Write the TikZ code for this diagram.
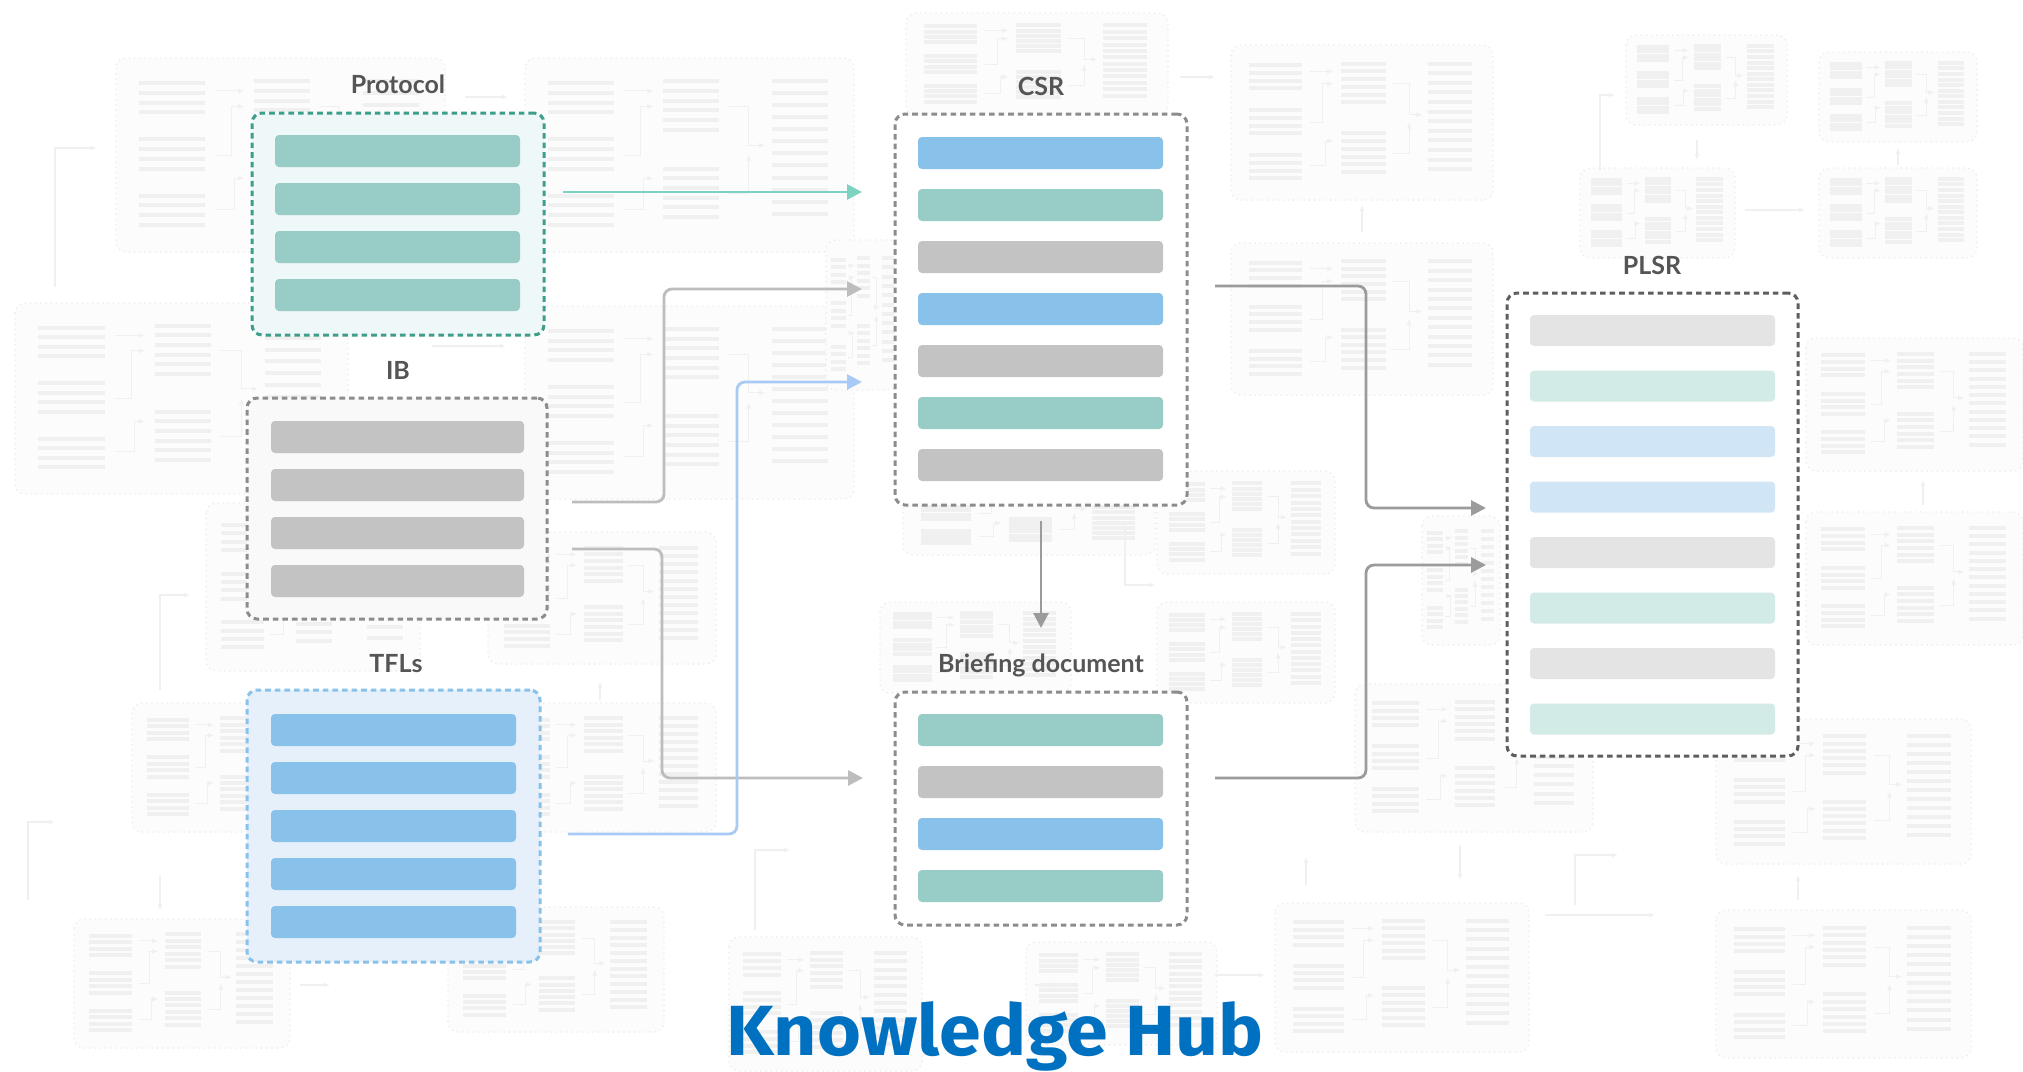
\documentclass[tikz,border=0pt]{standalone}
\usepackage{fontspec}
\setmainfont{Lato}
\newfontfamily\titlefont[FakeStretch=1.06]{Fira Sans}
\usetikzlibrary{arrows.meta}
\definecolor{tealbar}{HTML}{97CDC6}
\definecolor{bluebar}{HTML}{88C1EA}
\definecolor{graybar}{HTML}{C3C3C3}
\definecolor{ltgray}{HTML}{E4E4E4}
\definecolor{ltteal}{HTML}{D3EBE6}
\definecolor{ltblue}{HTML}{D0E5F5}
\definecolor{tealedge}{HTML}{3E9E8B}
\definecolor{tealfill}{HTML}{EFF8F8}
\definecolor{bluefill}{HTML}{E5F0FA}
\definecolor{grayfill}{HTML}{F9F9F9}
\definecolor{grayedge}{HTML}{8C8C8C}
\definecolor{darkedge}{HTML}{5E5E5E}
\definecolor{labelc}{HTML}{555555}
\definecolor{titlec}{HTML}{0070C0}
\definecolor{tealarrow}{HTML}{7DD3C1}
\definecolor{bluearrow}{HTML}{A8CAF4}
\definecolor{lgarrow}{HTML}{BDBDBD}
\definecolor{dgarrow}{HTML}{9B9B9B}
\definecolor{bgline}{HTML}{F0F0F0}
\definecolor{bgedge}{HTML}{EAEAEA}
\definecolor{bgfill}{HTML}{FCFCFC}
\tikzset{
  docbox/.style={anchor=north west, inner sep=0pt, outer sep=0pt, line width=1.5pt,
    dash pattern=on 2.8pt off 2pt, rounded corners=5pt},
  barbox/.style={anchor=north west, inner sep=0pt, outer sep=0pt, rounded corners=2pt,
    minimum width=122.5pt, minimum height=16pt},
  lbl/.style={anchor=base, text=labelc, font=\bfseries\fontsize{12.5}{14}\selectfont},
  conn/.style={line width=1.4pt, rounded corners=4pt, -{Triangle[length=7.5pt,width=7.5pt]}},
  bgframe/.style={draw=bgedge, fill=bgfill, dotted, line width=0.6pt, rounded corners=5pt},
  bgbar/.style={draw=bgline, line width=2pt},
  bgconn/.style={draw=bgline, line width=0.5pt, -{Latex[length=3pt,width=2.5pt]}},
}
\newcommand\bgpanel[4]{%
  \begin{scope}
  \pgfmathsetmacro\pw{#3-#1}%
  \pgfmathsetmacro\ph{#4-#2}%
  \draw[bgframe] (#1,#2) rectangle (#3,#4);
  \foreach \g in {0,1,2}{%
    \foreach \l in {0,...,3}{%
      \draw[bgbar] ({#1+0.07*\pw},{#2+(0.13+0.29*\g+0.05*\l)*\ph}) -- ++({0.2*\pw},0);
    }
  }
  \foreach \g in {0,1}{%
    \foreach \l in {0,...,5}{%
      \draw[bgbar] ({#1+0.42*\pw},{#2+(0.12+0.45*\g+0.05*\l)*\ph}) -- ++({0.17*\pw},0);
    }
  }
  \foreach \l in {0,...,11}{%
    \draw[bgbar] ({#1+0.75*\pw},{#2+(0.12+0.062*\l)*\ph}) -- ++({0.17*\pw},0);
  }
  \draw[bgconn] ({#1+0.3*\pw},{#2+0.17*\ph}) -- ({#1+0.39*\pw},{#2+0.17*\ph});
  \draw[bgconn] ({#1+0.3*\pw},{#2+0.5*\ph}) -| ({#1+0.35*\pw},{#2+0.25*\ph}) -- ({#1+0.39*\pw},{#2+0.25*\ph});
  \draw[bgconn] ({#1+0.3*\pw},{#2+0.78*\ph}) -| ({#1+0.36*\pw},{#2+0.62*\ph}) -- ({#1+0.39*\pw},{#2+0.62*\ph});
  \draw[bgconn] ({#1+0.62*\pw},{#2+0.25*\ph}) -| ({#1+0.68*\pw},{#2+0.45*\ph}) -- ({#1+0.73*\pw},{#2+0.45*\ph});
  \draw[bgconn] ({#1+0.62*\pw},{#2+0.7*\ph}) -| ({#1+0.68*\pw},{#2+0.5*\ph});
  \end{scope}
}
\begin{document}
\begin{tikzpicture}[x=0.5pt,y=-0.5pt]
\useasboundingbox (0,0) rectangle (2023,1071);
\fill[white] (0,0) rectangle (2023,1071);
% ---------- faded background panels ----------
\bgpanel{116}{58}{445}{252}
\bgpanel{525}{58}{854}{252}
\bgpanel{15}{303}{348}{494}
\bgpanel{525}{306}{854}{499}
\bgpanel{906}{13}{1168}{116}
\bgpanel{1231}{45}{1493}{200}
\bgpanel{1231}{243}{1493}{395}
\bgpanel{1626}{35}{1787}{125}
\bgpanel{1819}{52}{1977}{142}
\bgpanel{1580}{168}{1735}{258}
\bgpanel{1819}{168}{1977}{258}
\bgpanel{1806}{338}{2023}{471}
\bgpanel{1806}{512}{2023}{645}
\bgpanel{206}{503}{420}{671}
\bgpanel{488}{532}{716}{664}
\bgpanel{132}{703}{342}{832}
\bgpanel{488}{703}{716}{832}
\bgpanel{74}{919}{290}{1048}
\bgpanel{448}{907}{664}{1032}
\bgpanel{729}{937}{922}{1071}
\bgpanel{1026}{942}{1217}{1045}
\bgpanel{903}{471}{1155}{555}
\bgpanel{1157}{471}{1335}{574}
\bgpanel{880}{602}{1071}{693}
\bgpanel{1157}{602}{1335}{703}
\bgpanel{1355}{684}{1593}{832}
\bgpanel{1716}{719}{1971}{864}
\bgpanel{1275}{903}{1529}{1052}
\bgpanel{1716}{910}{1971}{1058}
\bgpanel{826}{240}{900}{390}
\bgpanel{1422}{516}{1500}{645}
% loose faint arrows
\draw[bgconn, line width=0.8pt] (55,287) -- (55,148) -- (97,148);
\draw[bgconn, line width=0.8pt] (465,97) -- (508,97);
\draw[bgconn, line width=0.8pt] (432,346) -- (506,346);
\draw[bgconn, line width=0.8pt] (1180,77) -- (1215,77);
\draw[bgconn, line width=0.8pt] (1362,232) -- (1362,205);
\draw[bgconn, line width=0.8pt] (1600,170) -- (1600,95) -- (1615,95);
\draw[bgconn, line width=0.8pt] (1745,210) -- (1805,210);
\draw[bgconn, line width=0.8pt] (1697,140) -- (1697,160);
\draw[bgconn, line width=0.8pt] (1898,165) -- (1898,148);
\draw[bgconn, line width=0.8pt] (160,690) -- (160,595) -- (190,595);
\draw[bgconn, line width=0.8pt] (28,900) -- (28,822) -- (55,822);
\draw[bgconn, line width=0.8pt] (160,875) -- (160,910);
\draw[bgconn, line width=0.8pt] (300,985) -- (330,985);
\draw[bgconn, line width=0.8pt] (600,700) -- (600,682);
\draw[bgconn, line width=0.8pt] (755,930) -- (755,850) -- (790,850);
\draw[bgconn, line width=0.8pt] (1035,985) -- (1058,985);
\draw[bgconn, line width=0.8pt] (1215,975) -- (1265,975);
\draw[bgconn, line width=0.8pt] (1306,885) -- (1306,857);
\draw[bgconn, line width=0.8pt] (1460,845) -- (1460,880);
\draw[bgconn, line width=0.8pt] (1575,905) -- (1575,855) -- (1618,855);
\draw[bgconn, line width=0.8pt] (1545,915) -- (1655,915);
\draw[bgconn, line width=0.8pt] (1798,900) -- (1798,875);
\draw[bgconn, line width=0.8pt] (1923,505) -- (1923,480);
\draw[bgconn, line width=0.8pt] (1125,525) -- (1125,585) -- (1155,585);
% ---------- main document boxes ----------
\node[docbox, draw=tealedge, fill=tealfill, minimum width=146pt, minimum height=111pt] (protocol) at (252,113) {};
\node[docbox, draw=grayedge, fill=grayfill, minimum width=150pt, minimum height=110.5pt] (ib) at (247,398) {};
\node[docbox, draw=bluebar, fill=bluefill, minimum width=146.5pt, minimum height=136pt] (tfls) at (247,690) {};
\node[docbox, draw=grayedge, fill=white, minimum width=146pt, minimum height=195.5pt] (csr) at (895,114) {};
\node[docbox, draw=grayedge, fill=white, minimum width=146pt, minimum height=116.5pt] (brief) at (895,692) {};
\node[docbox, draw=darkedge, fill=white, minimum width=145.5pt, minimum height=231.5pt] (plsr) at (1507,293) {};
% bars
\foreach \i in {0,...,3}{\node[barbox, fill=tealbar] (protocol-bar\i) at (275,{135+48*\i}) {};}
\foreach \i in {0,...,3}{\node[barbox, fill=graybar, minimum width=126.5pt] (ib-bar\i) at (271,{421+48*\i}) {};}
\foreach \i in {0,...,4}{\node[barbox, fill=bluebar] (tfls-bar\i) at (271,{714+48*\i}) {};}
\foreach \c [count=\i from 0] in {bluebar,tealbar,graybar,bluebar,graybar,tealbar,graybar}{%
  \node[barbox, fill=\c] (csr-bar\i) at (918,{137+52*\i}) {};}
\foreach \c [count=\i from 0] in {tealbar,graybar,bluebar,tealbar}{%
  \node[barbox, fill=\c] (brief-bar\i) at (918,{714+52*\i}) {};}
\foreach \c [count=\i from 0] in {ltgray,ltteal,ltblue,ltblue,ltgray,ltteal,ltgray,ltteal}{%
  \node[barbox, fill=\c, minimum height=15.5pt] (plsr-bar\i) at (1530,{315+55.5*\i}) {};}
% labels
\node[lbl] (protocol-label) at (398,93) {Protocol};
\node[lbl] (ib-label) at (398,379) {IB};
\node[lbl] (tfls-label) at (396,672) {TFLs};
\node[lbl] (csr-label) at (1041,95) {CSR};
\node[lbl] (brief-label) at (1041,672) {Briefing document};
\node[lbl] (plsr-label) at (1652,274) {PLSR};
% ---------- connectors ----------
\coordinate (protocol-out) at (563,192);
\coordinate (csr-in1) at (862,192);
\coordinate (ib-out1) at (572,502);
\coordinate (csr-in2) at (862,289);
\coordinate (ib-out2) at (572,549);
\coordinate (brief-in) at (863,778);
\coordinate (tfls-out) at (568,834);
\coordinate (csr-in3) at (862,382);
\coordinate (csr-out1) at (1041,521);
\coordinate (brief-top) at (1041,628);
\coordinate (csr-out2) at (1215,286);
\coordinate (plsr-in1) at (1486,508);
\coordinate (brief-out) at (1215,778);
\coordinate (plsr-in2) at (1486,565);
\draw[conn, tealarrow] (protocol-out) -- (csr-in1);
\draw[conn, lgarrow] (ib-out1) -- (664,502) -- (664,289) -- (csr-in2);
\draw[conn, lgarrow] (ib-out2) -- (662,549) -- (662,778) -- (brief-in);
\draw[conn, bluearrow] (tfls-out) -- (737,834) -- (737,382) -- (csr-in3);
\draw[conn, dgarrow] (csr-out1) -- (brief-top);
\draw[conn, dgarrow] (csr-out2) -- (1366,286) -- (1366,508) -- (plsr-in1);
\draw[conn, dgarrow] (brief-out) -- (1366,778) -- (1366,565) -- (plsr-in2);
% ---------- title ----------
\node[anchor=base, text=titlec, font=\titlefont\bfseries\fontsize{35.5}{40}\selectfont] (title) at (995,1055) {Knowledge Hub};
\end{tikzpicture}
\end{document}
